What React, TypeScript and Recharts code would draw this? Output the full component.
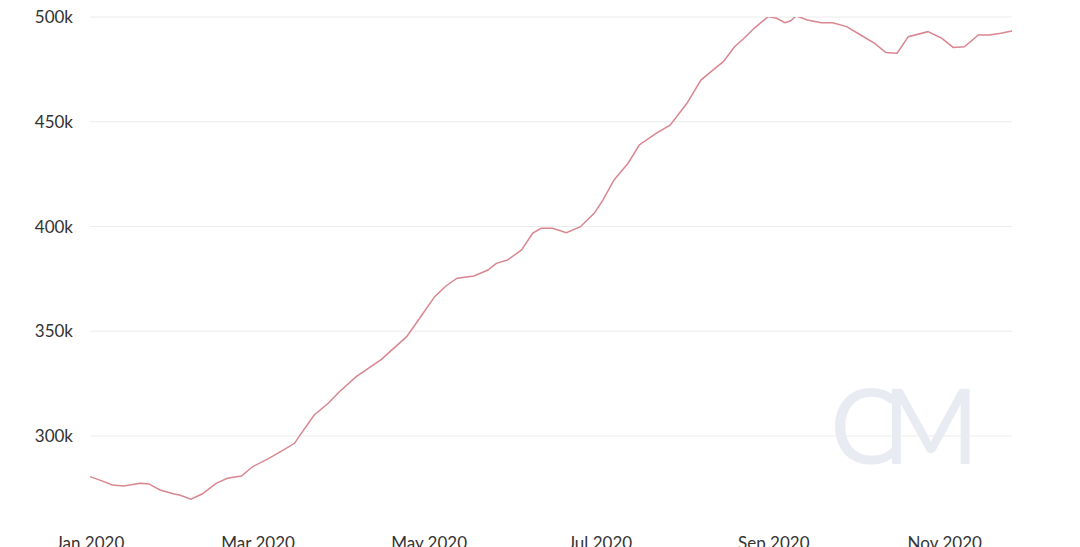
import React from 'react';
import { LineChart, Line, XAxis, YAxis, CartesianGrid } from 'recharts';

// day index counted from 1 Jan 2020
const days = [
  0, 4, 8, 12, 18, 21, 25, 30, 32, 36, 40, 45, 49, 54, 58, 64, 68, 73, 75, 80,
  85, 89, 95, 104, 113, 118, 123, 127, 131, 137, 142, 145, 149, 154, 158, 161, 165, 170, 175, 180,
  183, 187, 192, 196, 202, 207, 213, 218, 223, 226, 230, 233, 237, 242, 245, 248, 250, 252, 256, 261,
  265, 270, 275, 280, 284, 288, 292, 299, 304, 308, 312, 317, 321, 325, 329,
];

const values = [
  280.6, 278.7, 276.6, 276.1, 277.4, 277.1, 274.2, 272.3, 271.8, 269.8, 272.3, 277.4, 279.8, 280.9, 285.3, 289.4, 292.5, 296.5, 300.5, 310.0,
  315.6, 321.1, 328.3, 336.6, 347.4, 356.9, 366.5, 371.6, 375.3, 376.4, 379.2, 382.4, 384.0, 388.8, 396.8, 399.1, 399.1, 397.0, 399.9, 406.4,
  412.6, 422.2, 430.2, 438.9, 444.5, 448.4, 458.8, 469.9, 475.5, 478.7, 485.8, 489.4, 494.6, 500.2, 499.4, 497.3, 498.2, 500.5, 498.6, 497.3,
  497.3, 495.4, 491.4, 487.4, 483.0, 482.7, 490.6, 493.0, 489.8, 485.5, 485.8, 491.4, 491.4, 492.2, 493.3,
];

const tickDays = [0, 60, 121, 182, 244, 305];
const tickLabels = ['Jan 2020', 'Mar 2020', 'May 2020', 'Jul 2020', 'Sep 2020', 'Nov 2020'];
const yTicks = [300000, 350000, 400000, 450000, 500000];

const data = days.map((d, i) => ({ day: d, value: values[i] * 1000 }));

const fmtX = (v: number) => {
  const i = tickDays.indexOf(v);
  return i >= 0 ? tickLabels[i] : '';
};
const fmtY = (v: number) => `${Math.round(v / 1000)}k`;

export default function App() {
  return (
    <div style={{ position: 'absolute', left: 0, top: 0, width: 1080, height: 547, background: '#fff', overflow: 'hidden' }}>
      <div
        style={{
          position: 'absolute',
          left: 830,
          top: 372,
          fontFamily: 'Lato, sans-serif',
          fontWeight: 400,
          fontSize: 104,
          letterSpacing: -17,
          color: '#e8ebf2',
          lineHeight: 1,
        }}
      >
        CM
      </div>
      <LineChart
        width={1080}
        height={547}
        data={data}
        margin={{ top: 17, right: 68, left: 0, bottom: 0 }}
        style={{ position: 'relative' }}
      >
        <CartesianGrid vertical={false} stroke="#ececec" horizontalValues={yTicks} />
        <XAxis
          dataKey="day"
          type="number"
          domain={[0, 329]}
          ticks={tickDays}
          tickFormatter={fmtX}
          axisLine={false}
          tickLine={false}
          height={22}
          tickMargin={6}
          interval={0}
          tick={{ fill: '#333', fontSize: 17, fontFamily: 'Lato, sans-serif' }}
        />
        <YAxis
          type="number"
          domain={[257500, 500000]}
          ticks={yTicks}
          tickFormatter={fmtY}
          axisLine={false}
          tickLine={false}
          width={90}
          tickMargin={11}
          allowDataOverflow
          tick={{ fill: '#333', fontSize: 17, fontFamily: 'Lato, sans-serif' }}
        />
        <Line
          type="linear"
          dataKey="value"
          stroke="#d9868f"
          strokeWidth={1.5}
          dot={false}
          isAnimationActive={false}
        />
      </LineChart>
    </div>
  );
}
